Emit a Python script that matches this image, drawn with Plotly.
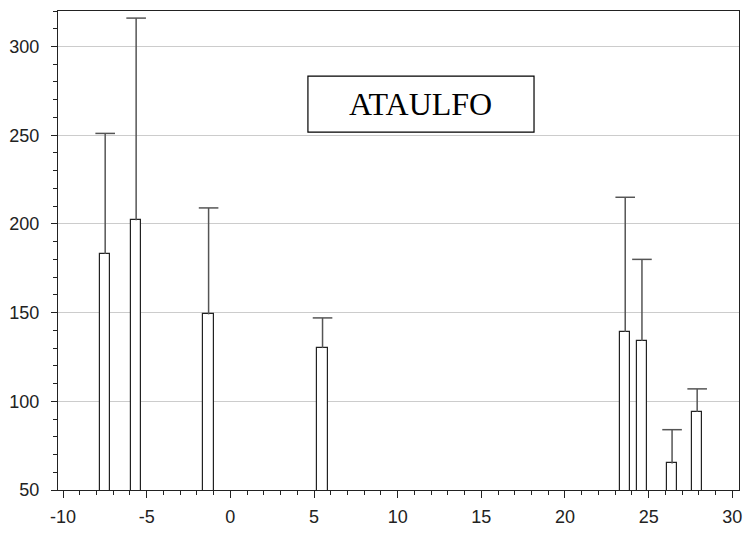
import plotly.graph_objects as go

x_pos = [-7.48, -5.63, -1.3, 5.51, 23.6, 24.6, 26.4, 27.9]
means = [183, 202, 149, 130, 139, 134, 65, 94]
upper = [251, 316, 209, 147, 215, 180, 84, 107]
err_plus = [u - m for u, m in zip(upper, means)]
err_minus = [0] * len(means)

x_ticks = [-10, -5, 0, 5, 10, 15, 20, 25, 30]
x_labels = ["-10", "-5", "0", "5", "10", "15", "20", "25", "30"]
y_ticks = [50, 100, 150, 200, 250, 300]
title_text = "ATAULFO"

fig = go.Figure()
# error whiskers (no caps), drawn under bars
fig.add_trace(go.Scatter(
    x=x_pos, y=means, mode="markers", marker=dict(size=1, opacity=0),
    error_y=dict(type="data", symmetric=False, array=err_plus, arrayminus=err_minus,
                 color="#555555", thickness=1.5, width=0),
    showlegend=False, hoverinfo="skip",
))
fig.add_trace(go.Bar(
    x=x_pos, y=means, width=0.62,
    marker=dict(color="white", line=dict(color="#222222", width=1.2)),
    showlegend=False,
))
# caps at the top of each whisker
fig.add_trace(go.Scatter(
    x=x_pos, y=upper, mode="markers",
    marker=dict(symbol="line-ew", size=14, line=dict(color="#555555", width=1.5)),
    showlegend=False, hoverinfo="skip",
))

fig.update_layout(
    width=743, height=533,
    margin=dict(l=58, r=1, t=11, b=43),
    paper_bgcolor="white", plot_bgcolor="white",
    font=dict(family="Liberation Sans, Arial, sans-serif", size=18, color="#222222"),
    xaxis=dict(range=[-10.3, 30.4], tickvals=x_ticks, ticktext=x_labels, showgrid=False, zeroline=False,
               showline=True, linecolor="#222222", linewidth=1.2, mirror=True,
               ticks="outside", ticklen=7, tickcolor="#222222", tickwidth=1,
               ticklabelstandoff=3, ticklabeloverflow="allow",
               minor=dict(dtick=1, tick0=0, ticks="outside", ticklen=4, tickcolor="#222222", showgrid=False)),
    yaxis=dict(range=[50, 320], tickvals=y_ticks, showgrid=True, gridcolor="#cccccc", gridwidth=1,
               zeroline=False, showline=True, linecolor="#222222", linewidth=1.2, mirror=True,
               ticks="outside", ticklen=6, tickcolor="#222222", tickwidth=1,
               ticklabelstandoff=8, ticklabeloverflow="allow",
               minor=dict(dtick=10, tick0=0, ticks="outside", ticklen=4, tickcolor="#222222", showgrid=False)),
    bargap=0,
)

fig.add_shape(type="rect", xref="paper", yref="paper", x0=0.367, x1=0.699, y0=0.747, y1=0.864,
              line=dict(color="black", width=1.2), fillcolor="white", layer="above")
fig.add_annotation(text=title_text, xref="paper", yref="paper", x=0.533, y=0.806,
                   showarrow=False, font=dict(family="Liberation Serif, Times New Roman, serif", size=32, color="black"),
                   xanchor="center", yanchor="middle")

fig.write_html("out.html")
